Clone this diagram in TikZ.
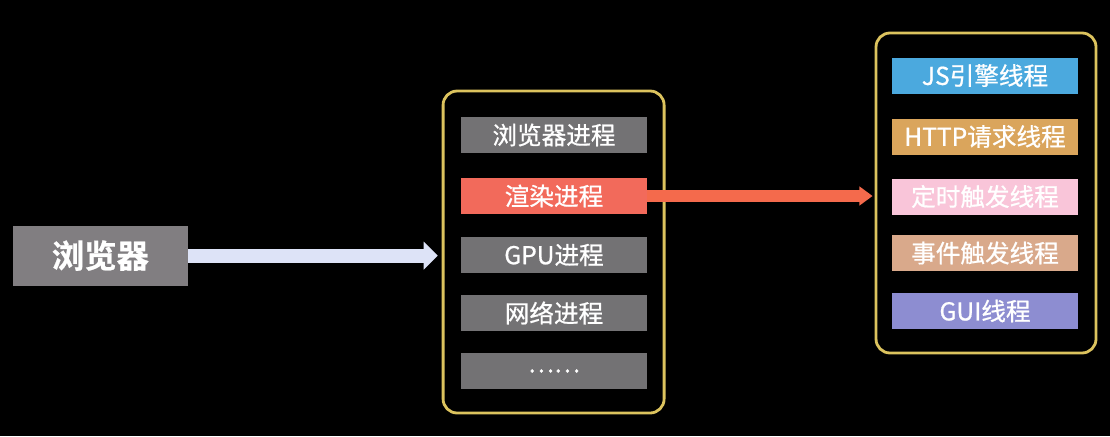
\documentclass[tikz,border=0pt]{standalone}
\usepackage{fontspec}
\usepackage{tikz}
\usepackage{tkz-euclide}
\usetikzlibrary{arrows.meta}
\newfontfamily\cjk[FakeBold=0.8]{Noto Sans CJK SC}
\newfontfamily\cjkbold[FakeBold=0.6]{Noto Sans CJK SC Bold}
\definecolor{boxgray}{HTML}{737274}
\definecolor{browsergray}{HTML}{817E81}
\definecolor{frameyellow}{HTML}{DCC35E}
\definecolor{renderred}{HTML}{F26A5B}
\definecolor{arrowred}{HTML}{F46A4C}
\definecolor{arrowlilac}{HTML}{DDE3F7}
\definecolor{jsblue}{HTML}{4BA9DE}
\definecolor{httporange}{HTML}{DAA55C}
\definecolor{timerpink}{HTML}{F9C5D9}
\definecolor{eventtan}{HTML}{D9A98B}
\definecolor{guipurple}{HTML}{8D8DD1}

\begin{document}
\begin{tikzpicture}[
        frame/.style={draw=frameyellow, line width=2pt, rounded corners=0.35cm},
        item/.style={minimum width=4.65cm, minimum height=0.9cm, inner sep=0pt,
                     text=white, font=\cjk\fontsize{17.5}{20}\selectfont},
        procbox/.style={item, fill=boxgray}
    ]
    \fill[black] (0,0) rectangle (27.75,10.9);
    \useasboundingbox (0,0) rectangle (27.75,10.9);

    \tkzDefPoints{2.51/4.51/B, 13.84/4.6/M, 24.65/6.075/T}
    \tkzDefPoints{13.85/7.525/P1, 13.85/6.0/P2, 13.85/4.525/P3, 13.85/3.075/P4, 13.85/1.625/P5}
    \tkzDefPoints{24.625/9.0125/T1, 24.625/7.4875/T2, 24.625/5.9875/T3, 24.625/4.575/T4, 24.625/3.125/T5}

    \node[fill=browsergray, minimum width=4.375cm, minimum height=1.5cm, inner sep=0pt,
          text=white, font=\cjkbold\fontsize{23}{26}\selectfont] (browser) at (B) {浏览器};

    \node[frame, minimum width=5.525cm, minimum height=8.05cm] (procs) at (M) {};
    \node[procbox] (mainproc) at (P1) {浏览器进程};
    \node[item, fill=renderred] (render) at (P2) {渲染进程};
    \node[procbox] (gpu) at (P3) {GPU进程};
    \node[procbox] (net) at (P4) {网络进程};
    \node[procbox] (more) at (P5) {……};

    \node[frame, minimum width=5.5cm, minimum height=8.0cm] (threads) at (T) {};
    \node[item, fill=jsblue] (js) at (T1) {JS引擎线程};
    \node[item, fill=httporange] (http) at (T2) {HTTP请求线程};
    \node[item, fill=timerpink] (timer) at (T3) {定时触发线程};
    \node[item, fill=eventtan] (event) at (T4) {事件触发线程};
    \node[item, fill=guipurple] (gui) at (T5) {GUI线程};

    \draw[arrowlilac, line width=0.35cm, shorten >=0.1cm,
          -{Triangle[width=0.68cm, length=0.35cm]}] (browser.east) -- (browser.east -| procs.west);
    \draw[arrowred, line width=0.3cm, shorten >=0.05cm,
          -{Triangle[width=0.46cm, length=0.33cm]}] (render.east) -- (render.east -| threads.west);
\end{tikzpicture}
\end{document}
